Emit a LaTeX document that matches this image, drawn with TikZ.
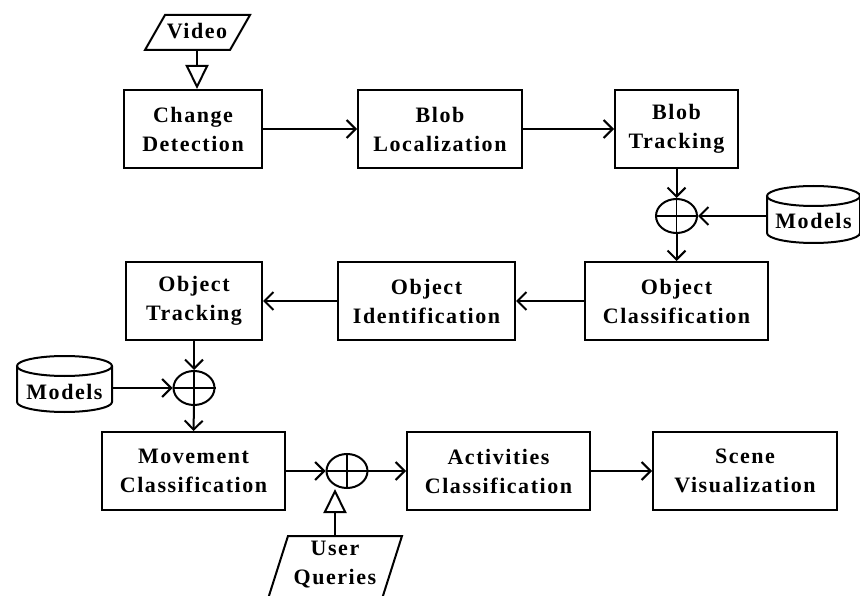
\documentclass[tikz,border=0pt]{standalone}
\usepackage{fontspec}
\setmainfont{Liberation Serif}[LetterSpace=7]
\usetikzlibrary{shapes.geometric,arrows.meta}
\begin{document}
\begin{tikzpicture}[x=1pt,y=-1pt,
  every node/.style={font=\bfseries\fontsize{22}{29}\selectfont, align=center, inner sep=0pt},
  box/.style={draw, line width=2pt, minimum height=78pt},
  oplus/.style={draw, ellipse, line width=2pt, minimum width=41pt, minimum height=34pt},
  conn/.style={line width=2pt, -{Straight Barb[length=9pt,width=18pt,line width=2pt]}},
  tri/.style={line width=2pt, -{Triangle[open,length=24pt,width=23pt,line width=2pt]}},
  ln/.style={line width=2pt}]
\useasboundingbox (0,0) rectangle (860,596);
\fill[white] (0,0) rectangle (860,596);
% boxes
\node[box, minimum width=138pt] (cd) at (193,129) {Change\\Detection};
\node[box, minimum width=164pt] (bl) at (440,129) {Blob\\Localization};
\node[box, minimum width=123pt] (bt) at (676.5,129) {Blob\\Tracking};
\node[box, minimum width=183pt] (oc) at (676.5,301) {Object\\Classification};
\node[box, minimum width=177pt] (oi) at (426.5,301) {Object\\Identification};
\node[box, minimum width=136pt] (ot) at (194,301) {Object\\Tracking};
\node[box, minimum width=183pt] (mc) at (193.5,471) {Movement\\Classification};
\node[box, minimum width=183pt] (ac) at (498.5,471) {Activities\\Classification};
\node[box, minimum width=184pt] (sv) at (745,471) {Scene\\Visualization};
% circles
\node[oplus] (c1) at (676.5,216) {};
\node[oplus] (c2) at (194,388) {};
\node[oplus] (c3) at (347,471) {};
\foreach \c in {c1,c2,c3}{
  \draw[line width=1.6pt] (\c.north) -- (\c.south);
  \draw[line width=1.6pt] (\c.west) -- (\c.east);
}
% video parallelogram
\node (video) at (197,31) {Video};
\draw[ln] (165,15) -- (250,15) -- (230,50) -- (145,50) -- cycle;
\coordinate (vb) at (197,50);
% user queries parallelogram
\node (uq) at (335,565) {User\\Queries};
\draw[ln] (288,536) -- (402,536) -- (381,602) -- (267,602) -- cycle;
\coordinate (uqt) at (335,536);
% models cylinders
\node (m1) at (813.5,221) {Models};
\draw[ln] (767,196) -- (767,233) arc[start angle=180,end angle=360,x radius=46.5pt,y radius=10pt] -- (860,196);
\draw[ln] (813.5,196) ellipse[x radius=46.5pt,y radius=10pt];
\coordinate (m1w) at (767,216);
\node (m2) at (64.5,392) {Models};
\draw[ln] (17,366) -- (17,402) arc[start angle=180,end angle=360,x radius=47.5pt,y radius=10pt] -- (112,366);
\draw[ln] (64.5,366) ellipse[x radius=47.5pt,y radius=10pt];
\coordinate (m2e) at (112,388);
% connectors
\draw[tri] (vb) -- (cd.north -| vb);
\draw[conn] (cd.east) -- (bl.west);
\draw[conn] (bl.east) -- (bt.west);
\draw[conn] (bt.south) -- (c1.north);
\draw[conn] (m1w) -- (c1.east);
\draw[conn] (c1.south) -- (oc.north);
\draw[conn] (oc.west) -- (oi.east);
\draw[conn] (oi.west) -- (ot.east);
\draw[conn] (ot.south) -- (c2.north);
\draw[conn] (m2e) -- (c2.west);
\draw[conn] (c2.south) -- (mc.north);
\draw[conn] (mc.east) -- (c3.west);
\draw[conn] (c3.east) -- (ac.west);
\draw[conn] (ac.east) -- (sv.west);
\draw[tri] (uqt) -- (c3.south -| uqt);
\end{tikzpicture}
\end{document}
